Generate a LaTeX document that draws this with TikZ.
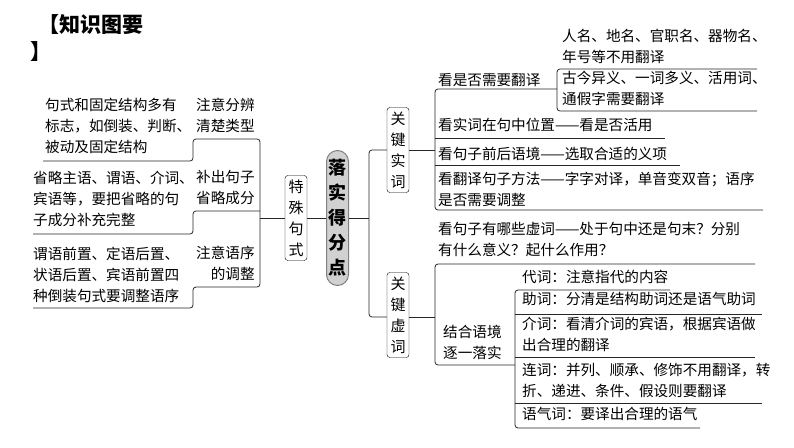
\documentclass[tikz,border=0pt]{standalone}
\usepackage{fontspec}
\setmainfont{Noto Sans CJK SC}
\begin{document}
\begin{tikzpicture}[x=1pt,y=-1pt]
  \tikzset{txt/.style = {anchor=north west, inner sep=0pt, align=left, font=\fontsize{14.6}{21}\selectfont}}
  \tikzset{vbox/.style = {draw, rounded corners=3pt, inner sep=2pt, align=center, font=\fontsize{15}{21}\selectfont, minimum width=22pt}}
  \tikzset{br/.style = {draw=black!85, line width=0.8pt, rounded corners=3pt}}

  \useasboundingbox (0,0) rectangle (794,447);
  \node[anchor=west, inner sep=0pt, font=\fontsize{21}{25}\selectfont\bfseries] (title) at (38,25) {【知识图要};
  \node[anchor=west, inner sep=0pt, font=\fontsize{21}{25}\selectfont\bfseries] (titleb) at (30,52) {】};

  % left branch
  \node[txt] (s1) at (45,98) {句式和固定结构多有\\标志，如倒装、判断、\\被动及固定结构};
  \node[txt] (s2) at (33,171) {省略主语、谓语、介词、\\宾语等，要把省略的句\\子成分补充完整};
  \node[txt] (s3) at (33,247) {谓语前置、定语后置、\\状语后置、宾语前置四\\种倒装句式要调整语序};
  \node[txt] (t1) at (196,98) {注意分辨\\清楚类型};
  \node[txt] (t2) at (196,170) {补出句子\\省略成分};
  \node[txt, align=right] (t3) at (196,246) {注意语序\\的调整};

  \node[vbox, minimum height=85pt] (tszs) at (296,218) {特\\殊\\句\\式};
  \node[vbox, minimum height=135pt, rounded corners=11pt, fill=black!18, draw=black!50, line width=1pt,
        font=\fontsize{18}{25}\selectfont\bfseries] (lsdf) at (337.5,218) {落\\实\\得\\分\\点};

  \coordinate (jl) at (260,218);
  \draw[br] (33,308) -- (193,308) -- (193,287) -- (260,287) -- (260,139) -- (193,139) -- (193,161) -- (43,161);
  \draw[br] (33,234) -- (193,234) -- (193,211) -- (260,211);
  \draw[br] (jl) -- (tszs.west);
  \draw[br] (tszs.east) -- (lsdf.west);

  % right branch
  \node[vbox, minimum height=85pt] (gjsc) at (398,150) {关\\键\\实\\词};
  \node[vbox, minimum height=85pt] (gjxc) at (398,315) {关\\键\\虚\\词};
  \coordinate (jr) at (369,218);
  \draw[br] (lsdf.east) -- (jr);
  \draw[br] (gjsc.west) -- (369,150) -- (369,317) -- (gjxc.west |- 0,317);

  % key content words
  \node[txt] (a0) at (438,73) {看是否需要翻译};
  \node[txt] (a1) at (562,29) {人名、地名、官职名、器物名、\\年号等不用翻译};
  \node[txt] (a2) at (562,71) {古今异义、一词多义、活用词、\\通假字需要翻译};
  \node[txt] (a3) at (438,118) {看实词在句中位置——看是否活用};
  \node[txt] (a4) at (438,147) {看句子前后语境——选取合适的义项};
  \node[txt] (a5) at (438,172) {看翻译句子方法——字字对译，单音变双音；语序\\是否需要调整};
  \draw[br] (gjsc.east |- 0,150) -- (435,150);
  \draw[br] (557,89) -- (435,89) -- (435,210) -- (763,210);
  \draw[br] (435,138) -- (665,138);
  \draw[br] (435,165) -- (680,165);
  \draw[br] (757,69) -- (557,69) -- (557,111) -- (757,111);

  % key function words
  \node[txt] (b0) at (438,222) {看句子有哪些虚词——处于句中还是句末？分别\\有什么意义？起什么作用？};
  \node[txt] (b1) at (443,325) {结合语境\\逐一落实};
  \node[txt] (c1) at (522,270) {代词：注意指代的内容};
  \node[txt] (c2) at (522,292) {助词：分清是结构助词还是语气助词};
  \node[txt] (c3) at (522,317) {介词：看清介词的宾语，根据宾语做\\出合理的翻译};
  \node[txt] (c4) at (522,363) {连词：并列、顺承、修饰不用翻译，转\\折、递进、条件、假设则要翻译};
  \node[txt] (c5) at (522,407) {语气词：要译出合理的语气};
  \draw[br] (gjxc.east |- 0,317) -- (435,317);
  \draw[br] (755,264) -- (435,264) -- (435,365) -- (515,365);
  \draw[br] (670,290) -- (515,290) -- (515,428) -- (700,428);
  \draw[br] (515,314) -- (762,314);
  \draw[br] (515,357) -- (755,357);
  \draw[br] (515,403) -- (762,403);
\end{tikzpicture}
\end{document}
